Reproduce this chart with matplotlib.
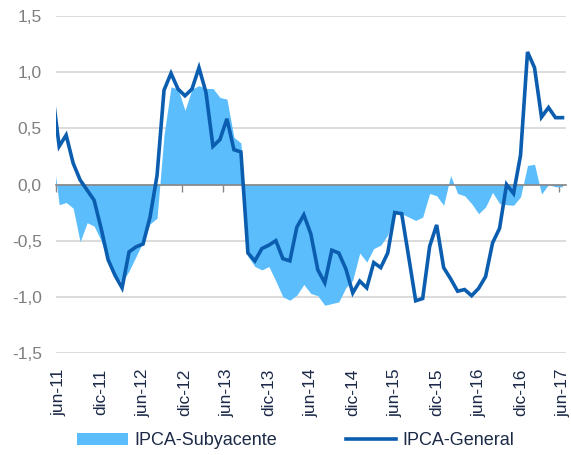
import matplotlib.pyplot as plt
import numpy as np

plt.rcParams['font.family'] = ['Liberation Sans', 'DejaVu Sans']

# monthly data, may-11 .. jun-17 (may-11 only shows as the clipped first segment)
subyacente = [0.32,
              -0.18, -0.16, -0.21, -0.51, -0.34, -0.37, -0.50, -0.69, -0.81, -0.87,
              -0.77, -0.64, -0.51, -0.35, -0.30, 0.44, 0.87, 0.85, 0.66, 0.85,
              0.88, 0.855, 0.855, 0.775, 0.76, 0.42, 0.37, -0.64, -0.73, -0.76,
              -0.73, -0.86, -1.00, -1.03, -0.985, -0.89, -0.97, -0.99, -1.075, -1.06,
              -1.045, -0.92, -0.85, -0.61, -0.69, -0.57, -0.54, -0.45, -0.25, -0.26,
              -0.29, -0.32, -0.29, -0.08, -0.10, -0.185, 0.08, -0.08, -0.10, -0.17,
              -0.26, -0.20, -0.07, -0.17, -0.18, -0.185, -0.11, 0.17, 0.18, -0.085,
              0.0, -0.02, -0.02]
general = [0.84,
           0.34, 0.44, 0.19, 0.04, -0.05, -0.14, -0.39, -0.67, -0.81, -0.92,
           -0.60, -0.555, -0.53, -0.29, 0.08, 0.84, 0.99, 0.85, 0.79, 0.85,
           1.04, 0.82, 0.34, 0.40, 0.585, 0.31, 0.29, -0.61, -0.68, -0.57,
           -0.54, -0.50, -0.66, -0.68, -0.38, -0.27, -0.44, -0.76, -0.875, -0.585,
           -0.61, -0.75, -0.965, -0.86, -0.92, -0.695, -0.74, -0.61, -0.25, -0.26,
           -0.645, -1.035, -1.015, -0.55, -0.36, -0.74, -0.84, -0.95, -0.935, -0.99,
           -0.925, -0.82, -0.52, -0.39, 0.0, -0.08, 0.26, 1.18, 1.04, 0.60,
           0.685, 0.595, 0.595]
tick_labels = ['jun-11', 'dic-11', 'jun-12', 'dic-12', 'jun-13', 'dic-13', 'jun-14',
               'dic-14', 'jun-15', 'dic-15', 'jun-16', 'dic-16', 'jun-17']
y_ticks = [-1.5, -1.0, -0.5, 0.0, 0.5, 1.0, 1.5]

x = np.arange(-1, len(general) - 1)

fig = plt.figure(figsize=(5.71, 4.55), dpi=100)
ax = fig.add_axes([0.0975, 0.2242, 0.8937, 0.7406])

ax.fill_between(x, 0, subyacente, color='#5BBDFC', lw=0, zorder=2,
                label='IPCA-Subyacente')
ax.plot(x, general, color='#0B5DAF', lw=2.6, zorder=4, label='IPCA-General',
        solid_joinstyle='miter')

ax.set_xlim(-0.5, len(general) - 1.5)
ax.set_ylim(-1.5, 1.5)

ax.set_yticks(y_ticks)
ax.set_yticklabels([f'{v:.1f}'.replace('.', ',') for v in y_ticks])
ax.tick_params(axis='y', length=0, pad=10, labelsize=12.5, labelcolor='#7f7f7f')
ax.grid(axis='y', color='#d9d9d9', lw=1.3)
ax.set_axisbelow(True)

for s in ['top', 'right', 'left']:
    ax.spines[s].set_visible(False)
ax.spines['bottom'].set_position(('data', 0))
ax.spines['bottom'].set_color('#878787')
ax.spines['bottom'].set_linewidth(1.2)
ax.spines['bottom'].set_zorder(3)
ax.set_xticks(np.arange(-0.5, len(general) - 1, 6))
ax.set_xticklabels([])
ax.tick_params(axis='x', length=5, width=1, color='#878787', direction='out')

sec = ax.secondary_xaxis(0.0)
sec.set_xticks(np.arange(0, len(general) - 1, 6))
sec.set_xticklabels(tick_labels, rotation=90)
sec.tick_params(length=0, pad=11, labelsize=12.5, labelcolor='#1c2a48')
sec.spines['bottom'].set_visible(False)

fig.legend(loc='center', bbox_to_anchor=(0.518, 0.031), ncol=2, frameon=False,
           fontsize=13, labelcolor='#1c2a48', handlelength=2.8,
           handletextpad=0.35, columnspacing=3.8)

fig.savefig('out.png', dpi=100)
